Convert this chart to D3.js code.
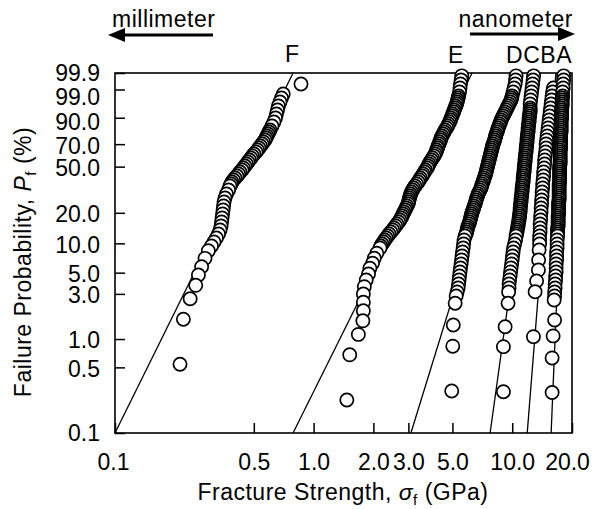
<!DOCTYPE html>
<html>
<head>
<meta charset="utf-8">
<script src="https://cdn.jsdelivr.net/npm/d3@7"></script>
<style>
  body { margin: 0; background: #fff; }
  svg text { font-family: "Liberation Sans", Arial, Helvetica, sans-serif; font-size: 23px; letter-spacing: 0.5px; fill: #000; }
  svg .tick text { letter-spacing: 0; }
</style>
</head>
<body>
<svg id="chart" width="593" height="509"></svg>
<script>
// fracture strength (GPa) and failure probability (%), top of each curve first
var strengthF = [0.864, 0.703, 0.689, 0.677, 0.665, 0.658, 0.650, 0.643, 0.631, 0.617, 0.603, 0.596, 0.589, 0.582, 0.576, 0.569, 0.559, 0.550, 0.540, 0.531, 0.522, 0.513, 0.501, 0.492, 0.484, 0.475, 0.467, 0.459, 0.451, 0.443, 0.436, 0.426, 0.419, 0.411, 0.402, 0.395, 0.388, 0.384, 0.379, 0.373, 0.364, 0.358, 0.354, 0.352, 0.350, 0.348, 0.346, 0.344, 0.342, 0.338, 0.332, 0.324, 0.315, 0.306, 0.295, 0.284, 0.273, 0.263, 0.255, 0.239, 0.221, 0.2125];
var probF = [99.49, 98.38, 97.62, 96.63, 95.37, 93.82, 91.99, 89.85, 87.43, 84.74, 81.80, 80.25, 78.65, 77.01, 75.34, 73.63, 71.89, 70.12, 68.34, 66.55, 64.74, 62.94, 61.13, 59.33, 57.54, 55.76, 54.00, 52.25, 50.53, 48.83, 47.16, 45.52, 43.91, 42.33, 40.79, 39.29, 37.82, 36.38, 34.99, 32.32, 29.80, 27.44, 25.23, 23.16, 21.25, 19.47, 17.82, 16.30, 14.89, 13.60, 12.41, 11.32, 10.32, 9.40, 8.41, 7.03, 5.76, 4.73, 3.69, 2.67, 1.62, 0.54];

var strengthE = [5.57, 5.53, 5.49, 5.46, 5.43, 5.37, 5.34, 5.31, 5.28, 5.25, 5.19, 5.16, 5.10, 5.07, 5.01, 4.98, 4.92, 4.89, 4.84, 4.78, 4.73, 4.67, 4.59, 4.54, 4.49, 4.43, 4.38, 4.36, 4.31, 4.28, 4.23, 4.21, 4.16, 4.14, 4.09, 4.04, 3.97, 3.92, 3.86, 3.81, 3.77, 3.73, 3.66, 3.62, 3.56, 3.52, 3.45, 3.41, 3.36, 3.30, 3.24, 3.19, 3.15, 3.11, 3.08, 3.06, 3.04, 3.02, 3.01, 2.99, 2.95, 2.92, 2.89, 2.85, 2.82, 2.79, 2.76, 2.72, 2.68, 2.63, 2.59, 2.54, 2.50, 2.45, 2.40, 2.36, 2.32, 2.28, 2.25, 2.21, 2.18, 2.16, 2.08, 2.02, 1.98, 1.92, 1.89, 1.84, 1.80, 1.78, 1.78, 1.78, 1.77, 1.68, 1.52, 1.47];
var probE = [99.84, 99.70, 99.49, 99.16, 98.69, 98.03, 97.62, 97.15, 96.63, 96.03, 95.37, 94.63, 93.82, 92.94, 91.99, 90.95, 89.85, 88.67, 87.43, 86.11, 84.74, 83.29, 81.80, 80.25, 78.65, 77.01, 75.34, 73.63, 71.89, 70.12, 68.34, 66.55, 64.74, 62.94, 61.13, 59.33, 57.54, 55.76, 54.00, 52.25, 50.53, 48.83, 47.16, 45.52, 43.91, 42.33, 40.79, 39.29, 37.82, 36.38, 34.99, 33.63, 32.32, 31.04, 29.80, 28.59, 27.44, 26.31, 25.23, 24.18, 23.16, 22.19, 21.25, 20.34, 19.47, 18.63, 17.82, 17.04, 16.30, 15.57, 14.89, 14.23, 13.60, 12.99, 12.41, 11.85, 11.32, 10.80, 10.32, 9.84, 9.40, 8.96, 7.92, 7.04, 6.25, 5.55, 4.84, 4.19, 3.57, 2.99, 2.45, 1.99, 1.56, 1.12, 0.68, 0.225];

var strengthD = [10.46, 10.40, 10.34, 10.22, 10.10, 9.99, 9.93, 9.87, 9.76, 9.64, 9.53, 9.42, 9.32, 9.21, 9.10, 9.00, 8.89, 8.79, 8.74, 8.64, 8.59, 8.49, 8.44, 8.39, 8.29, 8.25, 8.20, 8.15, 8.10, 8.01, 7.96, 7.92, 7.87, 7.83, 7.78, 7.74, 7.69, 7.65, 7.60, 7.56, 7.52, 7.47, 7.43, 7.39, 7.34, 7.30, 7.22, 7.18, 7.13, 7.05, 7.01, 6.97, 6.89, 6.81, 6.73, 6.69, 6.62, 6.58, 6.54, 6.50, 6.43, 6.39, 6.35, 6.28, 6.24, 6.21, 6.17, 6.14, 6.10, 6.06, 5.99, 5.96, 5.93, 5.89, 5.86, 5.79, 5.72, 5.69, 5.66, 5.62, 5.59, 5.56, 5.53, 5.49, 5.46, 5.43, 5.40, 5.37, 5.34, 5.28, 5.22, 5.16, 5.05, 5.02, 4.96];
var probD = [99.84, 99.70, 99.49, 99.16, 98.69, 98.03, 97.62, 97.15, 96.63, 96.03, 95.37, 94.63, 93.82, 92.94, 91.99, 90.95, 89.85, 88.67, 87.43, 86.11, 84.74, 83.29, 81.80, 80.25, 78.65, 77.01, 75.34, 73.63, 71.89, 70.12, 68.34, 66.55, 64.74, 62.94, 61.13, 59.33, 57.54, 55.76, 54.00, 52.25, 50.53, 48.83, 47.16, 45.52, 43.91, 42.33, 40.79, 39.29, 37.82, 36.38, 34.99, 33.63, 32.32, 31.04, 29.80, 28.59, 27.44, 26.31, 25.23, 24.18, 23.16, 22.19, 21.25, 20.34, 19.47, 18.63, 17.82, 17.04, 16.30, 15.57, 14.89, 14.23, 13.60, 12.99, 12.41, 11.85, 10.80, 9.84, 8.96, 8.16, 7.43, 6.76, 6.14, 5.59, 5.08, 4.61, 4.19, 3.81, 3.46, 3.14, 2.85, 2.39, 1.41, 0.84, 0.28];

var strengthC = [12.82, 12.74, 12.67, 12.59, 12.52, 12.45, 12.38, 12.31, 12.31, 12.31, 12.31, 12.23, 12.23, 12.16, 12.16, 12.16, 12.09, 12.09, 12.02, 12.02, 12.02, 11.95, 11.95, 11.88, 11.88, 11.88, 11.82, 11.82, 11.75, 11.75, 11.75, 11.68, 11.68, 11.61, 11.61, 11.61, 11.54, 11.54, 11.48, 11.48, 11.48, 11.41, 11.41, 11.35, 11.35, 11.35, 11.28, 11.28, 11.21, 11.21, 11.21, 11.15, 11.15, 11.08, 11.08, 11.08, 11.02, 11.02, 10.96, 10.96, 10.96, 10.89, 10.89, 10.83, 10.83, 10.77, 10.71, 10.71, 10.64, 10.58, 10.58, 10.52, 10.46, 10.40, 10.28, 10.16, 10.10, 10.04, 9.99, 9.93, 9.87, 9.81, 9.76, 9.70, 9.64, 9.64, 9.59, 9.53, 9.21, 9.03, 9.03];
var probC = [99.84, 99.70, 99.49, 99.16, 98.69, 98.03, 97.15, 96.03, 94.63, 93.82, 92.94, 91.99, 90.95, 89.85, 88.67, 87.43, 86.11, 84.74, 83.29, 81.80, 80.25, 78.65, 77.01, 75.34, 73.63, 71.89, 70.12, 68.34, 66.55, 64.74, 62.94, 61.13, 59.33, 57.54, 55.76, 54.00, 52.25, 50.53, 48.83, 47.16, 45.52, 43.91, 42.33, 40.79, 39.29, 37.82, 36.38, 34.99, 33.63, 32.32, 31.04, 29.80, 28.59, 27.44, 26.31, 25.23, 24.18, 23.16, 22.19, 21.25, 20.34, 19.47, 18.63, 17.82, 17.04, 16.30, 15.57, 14.89, 14.23, 13.60, 12.99, 12.41, 11.85, 10.80, 9.84, 8.96, 8.16, 7.43, 6.76, 6.14, 5.59, 5.08, 4.61, 4.19, 3.81, 3.46, 3.14, 2.39, 1.35, 0.83, 0.275];

var strengthB = [16.12, 15.97, 15.88, 15.79, 15.70, 15.61, 15.52, 15.43, 15.34, 15.25, 15.16, 15.08, 14.99, 14.90, 14.81, 14.81, 14.73, 14.64, 14.56, 14.56, 14.48, 14.39, 14.39, 14.31, 14.23, 14.23, 14.14, 14.14, 14.06, 14.06, 13.98, 13.98, 13.90, 13.90, 13.82, 13.82, 13.82, 13.74, 13.74, 13.74, 13.66, 13.58, 13.55, 13.27, 13.04, 12.79];
var probB = [99.16, 98.69, 98.03, 97.15, 96.03, 94.63, 92.94, 90.95, 88.67, 86.11, 83.29, 80.25, 77.01, 73.63, 70.12, 66.55, 62.94, 59.33, 55.76, 52.25, 48.83, 45.52, 42.33, 39.29, 36.38, 33.63, 31.04, 28.59, 26.31, 24.18, 22.19, 20.34, 18.63, 17.04, 15.57, 14.23, 12.99, 11.85, 10.80, 9.84, 8.55, 6.76, 5.32, 4.09, 3.16, 1.06];

var strengthA = [18.15, 18.15, 18.05, 18.05, 17.94, 17.94,
  17.84, 17.84, 17.84, 17.84, 17.84, 17.73, 17.73, 17.73, 17.73, 17.73, 17.73,
  17.63, 17.63, 17.63, 17.63, 17.63, 17.63, 17.63, 17.53, 17.53, 17.53, 17.53, 17.53, 17.53, 17.53, 17.53,
  17.43, 17.43, 17.43, 17.43, 17.43, 17.43, 17.43, 17.43, 17.33, 17.33, 17.33, 17.33, 17.33, 17.33, 17.33, 17.33, 17.33,
  17.23, 17.23, 17.23, 17.23, 17.23, 17.23, 17.23, 17.23, 17.23, 17.13, 17.13, 17.13, 17.13, 17.13, 17.13, 17.13,
  17.03, 17.03, 17.03, 17.03, 17.03, 17.03, 16.93, 16.93, 16.93, 16.93, 16.93,
  16.83, 16.83, 16.83, 16.73, 16.73, 16.73, 16.64, 16.64, 16.64, 16.54, 16.54, 16.44, 16.44, 16.35, 16.35, 16.26,
  16.35, 16.07, 15.88, 15.88];
var probA = [99.84, 99.70, 99.49, 99.16, 98.69, 98.03, 97.62, 97.15, 96.63, 96.03, 95.37, 94.63, 93.82, 92.94, 91.99, 90.95, 89.85, 88.67, 87.43, 86.11, 84.74, 83.29, 81.80, 80.25, 78.65, 77.01, 75.34, 73.63, 71.89, 70.12, 68.34, 66.55, 64.74, 62.94, 61.13, 59.33, 57.54, 55.76, 54.00, 52.25, 50.53, 48.83, 47.16, 45.52, 43.91, 42.33, 40.79, 39.29, 37.82, 36.38, 34.99, 33.63, 32.32, 31.04, 29.80, 28.59, 27.44, 26.31, 25.23, 24.18, 23.16, 22.19, 21.25, 20.34, 19.47, 18.63, 17.82, 17.04, 16.30, 15.57, 14.89, 14.23, 13.60, 12.99, 12.41, 11.85, 10.80, 9.84, 8.96, 8.16, 7.43, 6.76, 6.14, 5.59, 5.08, 4.61, 4.19, 3.81, 3.46, 3.14, 2.85, 2.59, 1.59, 1.08, 0.63, 0.27];

var seriesNames = ["F", "E", "D", "C", "B", "A"];
// Weibull fit lines: strength where each crosses 0.1 % and 99.9 %
var fitLow = [0.1, 0.788, 3.09, 7.74, 11.9, 15.7];
var fitHigh = [0.788, 6.28, 11.2, 13.8, 16.6, 18.7];

var xTicks = [0.1, 0.5, 1, 2, 3, 5, 10, 20];
var yTicks = [0.1, 0.5, 1, 3, 5, 10, 20, 50, 70, 90, 99, 99.9];

var series = [
    {name: "F", strength: strengthF, prob: probF},
    {name: "E", strength: strengthE, prob: probE},
    {name: "D", strength: strengthD, prob: probD},
    {name: "C", strength: strengthC, prob: probC},
    {name: "B", strength: strengthB, prob: probB},
    {name: "A", strength: strengthA, prob: probA}
];

var plotLeft = 115, plotRight = 572, plotTop = 73, plotBottom = 433;

// Weibull probability paper: ln(-ln(1 - P))
function weib(p) {
    return Math.log(-Math.log(1 - p / 100));
}

var x = d3.scaleLog().domain([0.1, 20]).range([plotLeft, plotRight]);
var yw = d3.scaleLinear().domain([weib(0.1), weib(99.9)]).range([plotBottom, plotTop]);
function y(p) { return yw(weib(p)); }

var svg = d3.select("#chart");
var fmt = d3.format(".1f");

// axes with inward ticks
var gx = svg.append("g")
    .attr("transform", "translate(0," + plotBottom + ")")
    .call(d3.axisBottom(x).tickValues(xTicks).tickSize(-10).tickPadding(21).tickFormat(fmt));
gx.select(".domain").remove();
gx.selectAll(".tick line").attr("stroke-width", 1.5);
// end labels sit a little inside the corners
gx.selectAll(".tick text").attr("x", function (v) {
    if (v === 20) return -5;
    if (v === 0.1) return -2;
    return 0;
});

var yAxis = d3.axisLeft(yw)
    .tickValues(yTicks.map(weib))
    .tickSize(-10).tickPadding(15)
    .tickFormat(function (v, i) { return fmt(yTicks[i]); });
var gy = svg.append("g")
    .attr("transform", "translate(" + plotLeft + ",0)")
    .call(yAxis);
gy.select(".domain").remove();
gy.selectAll(".tick line").attr("stroke-width", 1.5);
// crowded labels at the top are nudged down a little, as in the original
gy.selectAll(".tick text").attr("y", function (v, i) {
    var p = yTicks[i];
    if (p === 99) return 7.5;
    if (p === 90) return 4;
    if (p === 99.9 || p === 0.1) return 0;
    return 1.5;
});

// frame
svg.append("rect")
    .attr("x", plotLeft).attr("y", plotTop)
    .attr("width", plotRight - plotLeft).attr("height", plotBottom - plotTop)
    .attr("fill", "none").attr("stroke", "#000").attr("stroke-width", 1.6);

// fit lines
svg.append("g").selectAll("line")
    .data(seriesNames)
    .enter().append("line")
    .attr("x1", function (d, i) { return x(fitLow[i]); })
    .attr("y1", y(0.1))
    .attr("x2", function (d, i) { return x(fitHigh[i]); })
    .attr("y2", y(99.9))
    .attr("stroke", "#000").attr("stroke-width", 1.3);

// open circles, drawn from the top of each curve down
series.forEach(function (s) {
    var pts = s.strength.map(function (v, i) { return [v, s.prob[i]]; });
    svg.append("g").attr("class", "series-" + s.name)
        .selectAll("circle")
        .data(pts)
        .enter().append("circle")
        .attr("cx", function (d) { return x(d[0]); })
        .attr("cy", function (d) { return y(d[1]); })
        .attr("r", 6.6)
        .attr("fill", "#fff")
        .attr("stroke", "#000")
        .attr("stroke-width", 1.7);
});

// series letters over the plot
svg.append("text").attr("x", x(0.78)).attr("y", 62).attr("text-anchor", "middle").text("F");
svg.append("text").attr("x", x(5.2)).attr("y", 63).attr("text-anchor", "middle").text("E");
svg.append("text").attr("x", x(20)).attr("y", 63).attr("text-anchor", "end").text("DCBA");

// size arrows
svg.append("text").attr("x", 112).attr("y", 27).text("millimeter");
svg.append("line").attr("x1", 213).attr("y1", 35).attr("x2", 120).attr("y2", 35)
    .attr("stroke", "#000").attr("stroke-width", 3);
svg.append("path").attr("d", "M108,35 L125,28 L125,42 Z").attr("fill", "#000");

svg.append("text").attr("x", 573).attr("y", 27).attr("text-anchor", "end").text("nanometer");
svg.append("line").attr("x1", 470).attr("y1", 34).attr("x2", 562).attr("y2", 34)
    .attr("stroke", "#000").attr("stroke-width", 3);
svg.append("path").attr("d", "M575,34 L558,27 L558,41 Z").attr("fill", "#000");

// axis titles
var xt = svg.append("text").attr("x", 343).attr("y", 500).attr("text-anchor", "middle");
xt.append("tspan").text("Fracture Strength, ");
xt.append("tspan").attr("font-style", "italic").text("σ");
xt.append("tspan").attr("dy", 5).style("font-size", "15px").text("f");
xt.append("tspan").attr("dy", -5).text(" (GPa)");

var yt = svg.append("text")
    .attr("transform", "translate(31,262) rotate(-90)")
    .attr("text-anchor", "middle");
yt.append("tspan").text("Failure Probability, ");
yt.append("tspan").attr("font-style", "italic").text("P");
yt.append("tspan").attr("dy", 5).style("font-size", "15px").text("f");
yt.append("tspan").attr("dy", -5).text(" (%)");
</script>
</body>
</html>
